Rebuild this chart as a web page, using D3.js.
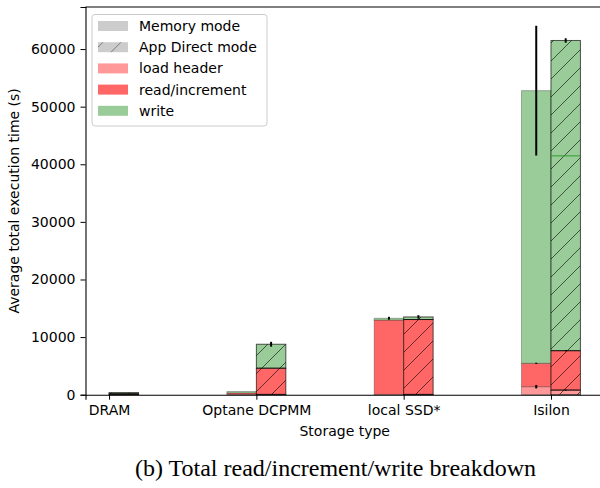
<!DOCTYPE html>
<html>
<head>
<meta charset="utf-8">
<script src="https://cdn.jsdelivr.net/npm/d3@7"></script>
<style>
  body { margin: 0; background: #fff; }
  svg text { font-family: "DejaVu Sans", sans-serif; }
</style>
</head>
<body>
<script>
const width = 600;
const height = 488;

// categories and values (seconds)
const categories = ["DRAM", "Optane DCPMM", "local SSD*", "Isilon"];

// Memory mode (no bar for DRAM)
const memLoad  = [null, 50, 50, 1390];
const memRead  = [null, 250, 12900, 4060];
const memWrite = [null, 250, 320, 47330];
const memLoadErr  = [null, 0, 0, 300];
const memReadErr  = [null, 0, 0, 100];
const memTotalErr = [null, 0, 250, 11260];

// App Direct mode
const adLoad  = [20, 50, 50, 800];
const adRead  = [150, 4550, 13000, 6840];
const adWrite = [200, 4160, 450, 53850];
const adLoadErr  = [0, 0, 0, 80];
const adReadErr  = [0, 0, 0, 80];
const adTotalErr = [0, 420, 300, 380];
const adWriteSplit = [null, null, null, 41460];

const yTicks = [0, 10000, 20000, 30000, 40000, 50000, 60000];

const colors = { load: "#ff9999", read: "#ff6666", write: "#99cc99" };
const barW = 0.2;

const margin = { left: 85.5, right: -4, top: 7, bottom: 93.3 };

const svg = d3.select("body")
  .append("svg")
  .attr("width", width)
  .attr("height", height);

const defs = svg.append("defs");
function makeHatch(id, color) {
  const p = defs.append("pattern")
    .attr("id", id)
    .attr("patternUnits", "userSpaceOnUse")
    .attr("width", 18)
    .attr("height", 18);
  p.append("path")
    .attr("d", "M-4.5,4.5 l9,-9 M0,18 l18,-18 M13.5,22.5 l9,-9")
    .attr("stroke", color)
    .attr("stroke-width", 1);
}
makeHatch("hatch", "rgba(0,0,0,0.6)");
makeHatch("hatchLegend", "rgba(0,0,0,0.4)");

const x = d3.scaleLinear()
  .domain([-0.16, 3.36])
  .range([margin.left, width - margin.right]);

const y = d3.scaleLinear()
  .domain([0, 67300])
  .range([height - margin.bottom, margin.top]);

// build stacked segments
function stackFor(load, read, write, offset, mode) {
  const out = [];
  categories.forEach((c, i) => {
    if (load[i] == null) return;
    let base = 0;
    [["load", load[i]], ["read", read[i]], ["write", write[i]]].forEach(([k, v]) => {
      out.push({ i, key: k, y0: base, y1: base + v, x0: i + offset, mode });
      base += v;
    });
  });
  return out;
}

const memSegs = stackFor(memLoad, memRead, memWrite, -barW, "mem");
const adSegs = stackFor(adLoad, adRead, adWrite, 0, "ad");

const g = svg.append("g");

// memory mode bars
g.selectAll("rect.mem")
  .data(memSegs)
  .enter().append("rect")
  .attr("class", "mem")
  .attr("x", d => x(d.x0))
  .attr("width", d => x(d.x0 + barW) - x(d.x0))
  .attr("y", d => y(d.y1))
  .attr("height", d => y(d.y0) - y(d.y1))
  .attr("fill", d => colors[d.key])
  .attr("stroke", "rgba(0,0,0,0.28)")
  .attr("stroke-width", 1);

// app direct bars
g.selectAll("rect.ad")
  .data(adSegs)
  .enter().append("rect")
  .attr("class", "ad")
  .attr("x", d => x(d.x0))
  .attr("width", d => x(d.x0 + barW) - x(d.x0))
  .attr("y", d => y(d.y1))
  .attr("height", d => y(d.y0) - y(d.y1))
  .attr("fill", d => colors[d.key]);

g.selectAll("rect.adh")
  .data(adSegs)
  .enter().append("rect")
  .attr("class", "adh")
  .attr("x", d => x(d.x0))
  .attr("width", d => x(d.x0 + barW) - x(d.x0))
  .attr("y", d => y(d.y1))
  .attr("height", d => y(d.y0) - y(d.y1))
  .attr("fill", "url(#hatch)")
  .attr("stroke", "rgba(0,0,0,0.65)")
  .attr("stroke-width", 1);

// green line inside Isilon app direct write
g.selectAll("line.split")
  .data(adWriteSplit.map((v, i) => ({ v, i })).filter(d => d.v != null))
  .enter().append("line")
  .attr("x1", d => x(d.i))
  .attr("x2", d => x(d.i + barW))
  .attr("y1", d => y(d.v))
  .attr("y2", d => y(d.v))
  .attr("stroke", "#2e9a2e")
  .attr("stroke-width", 1);

// error bars
const errs = [];
categories.forEach((c, i) => {
  if (memLoad[i] != null) {
    const l = memLoad[i], r = l + memRead[i], t = r + memWrite[i];
    errs.push({ xc: i - barW / 2, v: l, e: memLoadErr[i] });
    errs.push({ xc: i - barW / 2, v: r, e: memReadErr[i] });
    errs.push({ xc: i - barW / 2, v: t, e: memTotalErr[i] });
  }
  const l = adLoad[i], r = l + adRead[i], t = r + adWrite[i];
  errs.push({ xc: i + barW / 2, v: l, e: adLoadErr[i] });
  errs.push({ xc: i + barW / 2, v: r, e: adReadErr[i] });
  errs.push({ xc: i + barW / 2, v: t, e: adTotalErr[i] });
});

g.selectAll("line.err")
  .data(errs.filter(d => d.e > 0))
  .enter().append("line")
  .attr("class", "err")
  .attr("x1", d => x(d.xc))
  .attr("x2", d => x(d.xc))
  .attr("y1", d => y(d.v - d.e))
  .attr("y2", d => y(d.v + d.e))
  .attr("stroke", "#000")
  .attr("stroke-width", 2);

// axes
const xAxis = svg.append("g")
  .attr("transform", `translate(0,${y(0)})`)
  .call(d3.axisBottom(x).tickValues([0, 1, 2, 3]).tickFormat(i => categories[i]).tickSizeOuter(0).tickSize(5).tickPadding(5));
xAxis.select(".domain").attr("stroke-width", 1.1);
xAxis.selectAll("text").attr("font-size", 14).attr("fill", "#000");

const yAxis = svg.append("g")
  .attr("transform", `translate(${x.range()[0]},0)`)
  .call(d3.axisLeft(y).tickValues(yTicks).tickFormat(d3.format("d")).tickSizeOuter(0).tickSize(5).tickPadding(5));
yAxis.select(".domain").attr("stroke-width", 1.1);
yAxis.selectAll("text").attr("font-size", 14).attr("fill", "#000");

// top spine
svg.append("line")
  .attr("x1", x.range()[0]).attr("x2", x.range()[1])
  .attr("y1", y.range()[1]).attr("y2", y.range()[1])
  .attr("stroke", "#000").attr("stroke-width", 1.1);

// axis labels
svg.append("text")
  .attr("x", (x.range()[0] + x.range()[1]) / 2)
  .attr("y", 436)
  .attr("text-anchor", "middle")
  .attr("font-size", 14)
  .text("Storage type");

svg.append("text")
  .attr("transform", `translate(19,${(y.range()[0] + y.range()[1]) / 2}) rotate(-90)`)
  .attr("text-anchor", "middle")
  .attr("font-size", 14)
  .text("Average total execution time (s)");

// caption
svg.append("text")
  .attr("x", 335.5)
  .attr("y", 476)
  .attr("text-anchor", "middle")
  .attr("font-size", 24)
  .style("font-family", "'Liberation Serif', 'Times New Roman', serif")
  .text("(b) Total read/increment/write breakdown");

// legend
const legendItems = [
  { label: "Memory mode", fill: "#cccccc", hatch: false },
  { label: "App Direct mode", fill: "#cccccc", hatch: true },
  { label: "load header", fill: colors.load, hatch: false },
  { label: "read/increment", fill: colors.read, hatch: false },
  { label: "write", fill: colors.write, hatch: false }
];

const legend = svg.append("g");
legend.append("rect")
  .attr("x", 92).attr("y", 14.5)
  .attr("width", 175).attr("height", 111.5)
  .attr("rx", 3)
  .attr("fill", "rgba(255,255,255,0.8)")
  .attr("stroke", "#cccccc");

const rows = legend.selectAll("g.row")
  .data(legendItems)
  .enter().append("g")
  .attr("transform", (d, i) => `translate(98,${26 + i * 21.2})`);

rows.append("rect")
  .attr("x", 0).attr("y", -5)
  .attr("width", 30).attr("height", 10)
  .attr("fill", d => d.fill);
rows.filter(d => d.hatch).append("rect")
  .attr("x", 0).attr("y", -5)
  .attr("width", 30).attr("height", 10)
  .attr("fill", "url(#hatchLegend)");
rows.append("text")
  .attr("x", 41)
  .attr("y", 5)
  .attr("font-size", 14)
  .text(d => d.label);
</script>
</body>
</html>
